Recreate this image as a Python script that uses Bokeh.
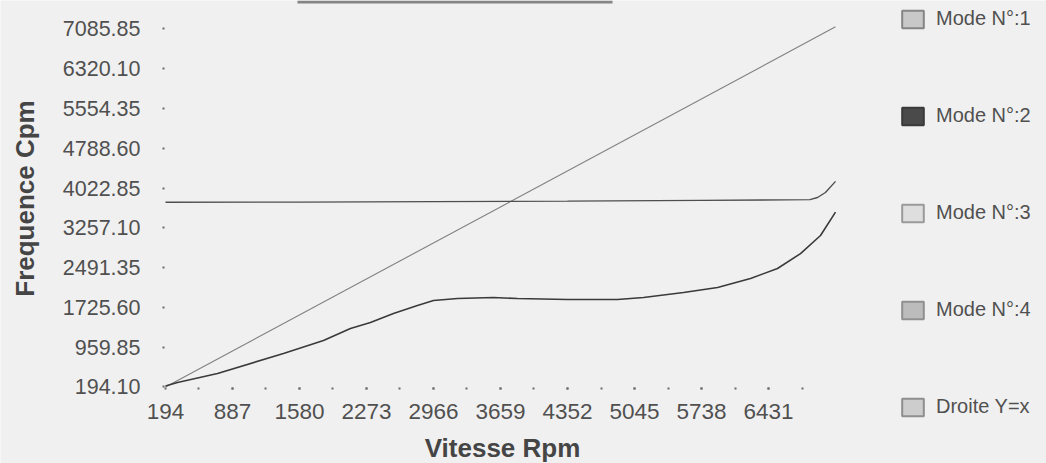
import math
from bokeh.plotting import figure
from bokeh.models import (ColumnDataSource, FixedTicker, NumeralTickFormatter,
                          Legend, LegendItem, Range1d, BoxAnnotation, Label)
from bokeh.embed import file_html
from bokeh.resources import INLINE

# Axis grids: rotor speed (rpm) and frequency (cpm)
x_ticks = [194, 887, 1580, 2273, 2966, 3659, 4352, 5045, 5738, 6431]
x_minor = [540.5, 887, 1233.5, 1580, 1926.5, 2273, 2619.5, 2966, 3312.5, 3659,
           4005.5, 4352, 4698.5, 5045, 5391.5, 5738, 6084.5, 6431, 6777.5]
y_ticks = [194.10, 959.85, 1725.60, 2491.35, 3257.10, 4022.85,
           4788.60, 5554.35, 6320.10, 7085.85]

# Campbell diagram: natural frequencies against rotor speed
mode1_rpm = [194, 318, 732, 1414, 1828, 2107, 2314, 2552, 2800, 2966, 3214, 3587,
             3835, 4352, 4869, 5138, 5552, 5904, 6245, 6524, 6762, 6969, 7124]
mode1_cpm = [215, 281, 454, 838, 1089, 1320, 1435, 1608, 1762, 1858, 1897, 1916,
             1897, 1877, 1877, 1916, 2012, 2108, 2281, 2474, 2760, 3109, 3560]

mode2_rpm = [194, 1580, 2966, 4352, 5738, 6600, 6860, 6938, 7020, 7124]
mode2_cpm = [3749, 3752, 3760, 3770, 3785, 3795, 3800, 3840, 3936, 4150]

# Excitation line Y = X (synchronous speed)
droite_rpm = [194, 7124]
droite_cpm = [194.1, 7124]

x_title = "Vitesse Rpm"
y_title = "Frequence Cpm"
legend_labels = ["Mode N°:1", "Mode N°:2", "Mode N°:3", "Mode N°:4", "Droite Y=x"]
legend_fill = ["#c8c8c8", "#4a4a4a", "#dedede", "#bcbcbc", "#cdcdcd"]
legend_edge = ["#858585", "#3a3a3a", "#9a9a9a", "#909090", "#8e8e8e"]

FONT = "Liberation Sans"
BG = "#f0f0f0"
NAN = float("nan")

# the frame spans the whole canvas; both axes are pinned at the data origin
p = figure(width=1046, height=463, output_backend="svg", toolbar_location=None,
           x_range=Range1d(-1512.6, 9306.4), y_range=Range1d(-1277.8, 7630.4),
           min_border=0)
p.background_fill_color = BG
p.border_fill_color = BG
p.outline_line_color = None
p.grid.visible = False

p.line(droite_rpm, droite_cpm, line_color="#808080", line_width=1.1)
p.line(mode2_rpm, mode2_cpm, line_color="#4e4e4e", line_width=1.4)
p.line(mode1_rpm, mode1_cpm, line_color="#3a3a3a", line_width=1.6)

# x axis
xa = p.xaxis[0]
xa.fixed_location = 184.5
xa.ticker = FixedTicker(ticks=x_ticks, minor_ticks=x_minor)
xa.axis_line_color = None
xa.major_tick_in = 0
xa.major_tick_out = 2
xa.major_tick_line_width = 2
xa.major_tick_line_color = "#6a6a6a"
xa.minor_tick_in = 0
xa.minor_tick_out = 2
xa.minor_tick_line_width = 2
xa.minor_tick_line_color = "#6a6a6a"
xa.major_label_standoff = 15
xa.major_label_text_font = FONT
xa.major_label_text_font_size = "22.5px"
xa.major_label_text_color = "#505050"

# y axis
ya = p.yaxis[0]
ya.fixed_location = 183.66
ya.ticker = FixedTicker(ticks=y_ticks, minor_ticks=[])
ya.formatter = NumeralTickFormatter(format="0.00")
ya.axis_line_color = None
ya.major_tick_in = 0
ya.major_tick_out = 2
ya.major_tick_line_width = 2
ya.major_tick_line_color = "#6a6a6a"
ya.minor_tick_line_color = None
ya.major_label_standoff = 22
ya.major_label_text_font = FONT
ya.major_label_text_font_size = "21.5px"
ya.major_label_text_color = "#505050"

# axis titles
title_style = dict(x_units="screen", y_units="screen", text_font=FONT,
                   text_font_size="26px", text_font_style="bold",
                   text_color="#454545", text_align="center",
                   text_baseline="middle")
p.add_layout(Label(x=502, y=16, text=x_title, **title_style))
p.add_layout(Label(x=24, y=265, text=y_title, angle=math.pi / 2, **title_style))

# bottom edge of the header box above the plot area
p.add_layout(BoxAnnotation(left=297, right=612, bottom=460, top=463,
                           left_units="screen", right_units="screen",
                           top_units="screen", bottom_units="screen",
                           fill_color="#6a6a6a", fill_alpha=0.8, line_color=None))

# legend swatches: filled boxes that only appear in the legend
items = []
for lab, fc, ec in zip(legend_labels, legend_fill, legend_edge):
    src = ColumnDataSource(dict(l=[NAN], r=[NAN], t=[NAN], b=[NAN]))
    r = p.quad(left="l", right="r", top="t", bottom="b", source=src,
               fill_color=fc, line_color=ec, line_width=2)
    items.append(LegendItem(label=lab, renderers=[r]))

legend = Legend(items=items, location=(899, 45), orientation="vertical",
                padding=0, margin=0, spacing=74,
                glyph_width=27, glyph_height=22, label_height=22,
                label_standoff=10, label_text_font=FONT,
                label_text_font_size="20px", label_text_color="#505050",
                background_fill_alpha=0, border_line_color=None)
p.add_layout(legend, "center")

open("out.html", "w").write(file_html(p, INLINE))
